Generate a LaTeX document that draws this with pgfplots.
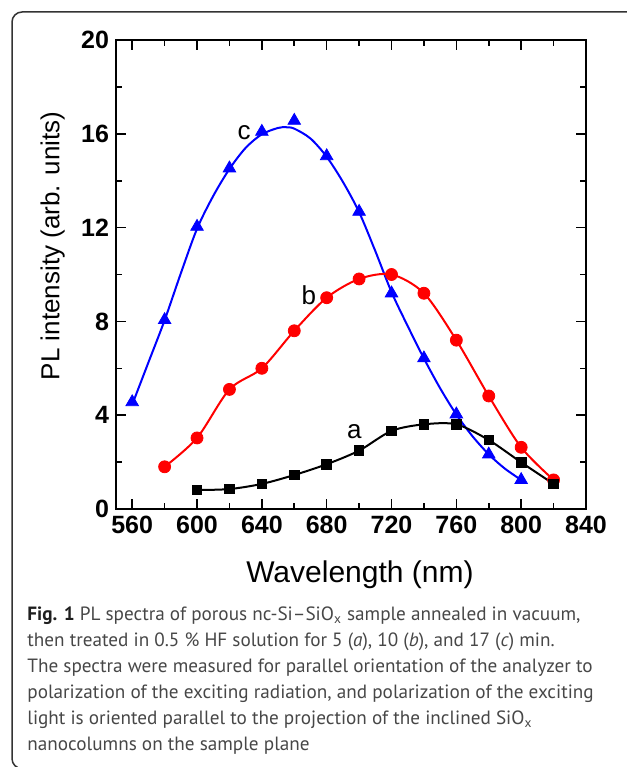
\documentclass[border=0pt]{standalone}
\usepackage{pgfplots}
\pgfplotsset{compat=1.18}
\usepackage{fontspec}
\setmainfont{Liberation Sans}
\newfontfamily\capfont{PT Sans}

% sample a (5 min), b (10 min), c (17 min)
\pgfplotstableread{
x y
600 0.81
620 0.85
640 1.07
660 1.45
680 1.91
700 2.49
720 3.33
740 3.61
760 3.61
780 2.94
800 1.99
820 1.07
}\dataA
\pgfplotstableread{
x y
580 1.80
600 3.03
620 5.10
640 6.00
660 7.60
680 9.01
700 9.81
720 10.00
740 9.20
760 7.20
780 4.82
800 2.63
820 1.24
}\dataB
\pgfplotstableread{
x y
560 4.56
580 8.06
600 12.04
620 14.53
640 16.09
660 16.56
680 15.05
700 12.68
720 9.20
740 6.43
760 4.04
780 2.33
800 1.24
}\dataC
% fitted curve of c
\pgfplotstableread{
x y
560 4.45
570 6.25
580 8.05
590 10.05
600 11.95
610 13.35
620 14.50
630 15.40
640 15.98
650 16.25
655 16.28
660 16.22
670 15.80
680 15.02
690 13.95
700 12.66
710 11.00
720 9.25
730 7.80
740 6.42
750 5.15
760 4.03
770 3.10
780 2.33
790 1.72
800 1.24
}\fitC

\begin{document}
\begin{tikzpicture}
\useasboundingbox (0,0) rectangle (313.5pt,383.5pt);
\draw[line width=0.75pt, black!80, rounded corners=5pt]
  (330pt,377.5pt) -- (6pt,377.5pt) -- (6pt,-0.8pt) -- (330pt,-0.8pt);

\begin{axis}[at={(58pt,129pt)}, anchor=south west,
  scale only axis, width=235pt, height=234.5pt,
  xmin=550, xmax=840, ymin=0, ymax=20,
  xtick={560,600,...,840}, ytick={0,4,...,20},
  minor x tick num=1, minor y tick num=1,
  tick align=inside, major tick length=5pt, minor tick length=3pt,
  axis line style={line width=1pt},
  every tick/.style={black, line width=0.8pt},
  /pgf/number format/assume math mode=true,
  tick label style={font=\bfseries\fontsize{12.5}{14}\selectfont},
  xlabel={Wavelength (nm)}, ylabel={PL intensity (arb. units)},
  xlabel style={font=\fontsize{15}{17}\selectfont, at={(axis description cs:0.519,-0.141)}, anchor=center},
  ylabel style={font=\fontsize{13}{15}\selectfont, at={(axis description cs:-0.135,0.561)}, anchor=center},
  clip=false]
  \addplot[blue, line width=1pt, smooth, tension=0.5] table {\fitC};
  \addplot[red, line width=1pt, smooth, tension=0.5] table {\dataB};
  \addplot[black, line width=1pt, smooth, tension=0.5] table {\dataA};
  \addplot[only marks, mark=triangle*, mark size=3.6pt, blue] table {\dataC};
  \addplot[only marks, mark=*, mark size=3pt, red] table {\dataB};
  \addplot[only marks, mark=square*, mark size=2.4pt, black] table {\dataA};
  \node[font=\fontsize{13}{15}\selectfont] at (axis cs:629,16.03) {c};
  \node[font=\fontsize{13}{15}\selectfont] at (axis cs:669,9.13) {b};
  \node[font=\fontsize{13}{15}\selectfont] at (axis cs:697,3.30) {a};
\end{axis}

\begin{scope}[every node/.style={anchor=base west, inner sep=0pt, text=black!72,
    font=\capfont\fontsize{9.6}{13}\selectfont}]
  \node at (13.5pt,73.4pt) {\textcolor{black!88}{\textbf{Fig. 1}} PL spectra of porous nc-Si–SiO\textsubscript{x} sample annealed in vacuum,};
  \node at (13.5pt,60.4pt) {then treated in 0.5 \% HF solution for 5 (\textit{a}), 10 (\textit{b}), and 17 (\textit{c}) min.};
  \node at (13.5pt,47.4pt) {The spectra were measured for parallel orientation of the analyzer to};
  \node at (13.5pt,34.4pt) {polarization of the exciting radiation, and polarization of the exciting};
  \node at (13.5pt,21.4pt) {light is oriented parallel to the projection of the inclined SiO\textsubscript{x}};
  \node at (13.5pt,8.4pt) {nanocolumns on the sample plane};
\end{scope}
\end{tikzpicture}
\end{document}
